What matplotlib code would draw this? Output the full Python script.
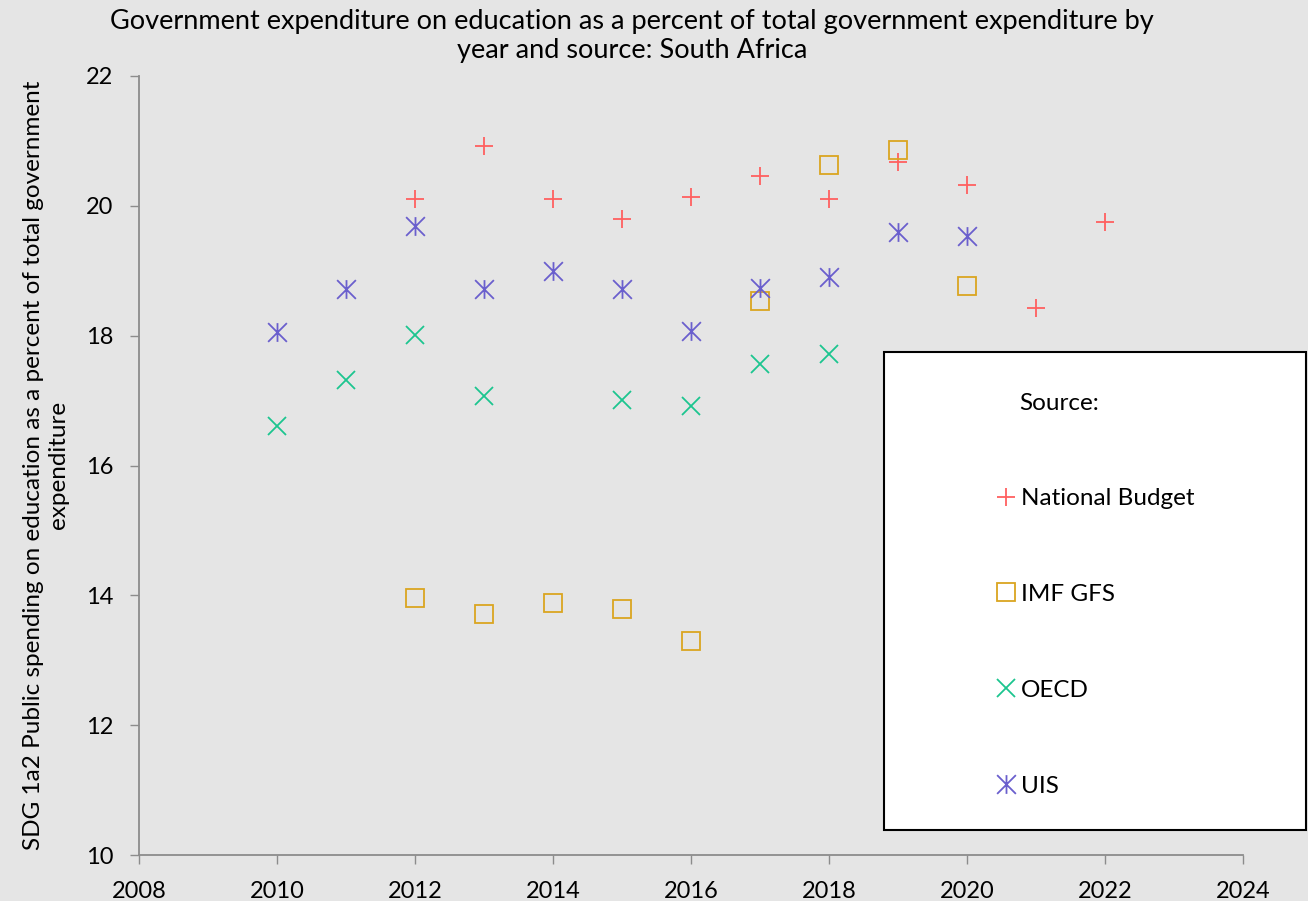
import matplotlib
matplotlib.use("Agg")
import matplotlib.pyplot as plt
from matplotlib.path import Path
from matplotlib.patches import Rectangle

# Government expenditure on education, % of total government expenditure
nb_years = [2012, 2013, 2014, 2015, 2016, 2017, 2018, 2019, 2020, 2021, 2022]
nb_values = [20.10, 20.92, 20.10, 19.80, 20.13, 20.46, 20.10, 20.67, 20.32, 18.42, 19.75]

imf_years = [2012, 2013, 2014, 2015, 2016, 2017, 2018, 2019, 2020]
imf_values = [13.96, 13.71, 13.88, 13.79, 13.29, 18.54, 20.63, 20.86, 18.77]

oecd_years = [2010, 2011, 2012, 2013, 2015, 2016, 2017, 2018]
oecd_values = [16.61, 17.32, 18.01, 17.07, 17.01, 16.92, 17.56, 17.72]

uis_years = [2010, 2011, 2012, 2013, 2014, 2015, 2016, 2017, 2018, 2019, 2020]
uis_values = [18.06, 18.72, 19.69, 18.72, 19.00, 18.72, 18.07, 18.73, 18.91, 19.60, 19.53]

x_ticks = [2008, 2010, 2012, 2014, 2016, 2018, 2020, 2022, 2024]
y_ticks = [10, 12, 14, 16, 18, 20, 22]

FONT = ["Lato", "DejaVu Sans"]
BG = "#E5E5E5"
AXIS_GRAY = "#8C8C8C"

# asterisk marker: vertical bar plus an X
asterisk = Path(
    [(0, -1), (0, 1), (-1, -1), (1, 1), (-1, 1), (1, -1)],
    [Path.MOVETO, Path.LINETO, Path.MOVETO, Path.LINETO, Path.MOVETO, Path.LINETO],
)

plt.rcParams["font.family"] = FONT

fig = plt.figure(figsize=(13.08, 9.01), dpi=100, facecolor=BG)
ax = fig.add_axes([0.1063, 0.051, 0.8440, 0.8647], facecolor=BG)

ms = 13.5
mew = 1.3
ax.plot(nb_years, nb_values, linestyle="none", marker="+", markersize=ms,
        markeredgewidth=mew, color="#FF6060", label="National Budget")
ax.plot(imf_years, imf_values, linestyle="none", marker="s", markersize=ms,
        markeredgewidth=mew, markerfacecolor="none", markeredgecolor="#DAA520",
        label="IMF GFS")
ax.plot(oecd_years, oecd_values, linestyle="none", marker="x", markersize=ms,
        markeredgewidth=mew, color="#1CC58F", label="OECD")
ax.plot(uis_years, uis_values, linestyle="none", marker=asterisk, markersize=ms,
        markeredgewidth=mew, color="#6A5FCD", label="UIS")

ax.set_xlim(2008, 2024)
ax.set_ylim(10, 22)
ax.set_xticks(x_ticks)
ax.set_yticks(y_ticks)

for side in ("top", "right"):
    ax.spines[side].set_visible(False)
for side in ("left", "bottom"):
    ax.spines[side].set_color(AXIS_GRAY)
    ax.spines[side].set_linewidth(1.3)

ax.tick_params(axis="both", direction="out", length=6.5, width=1.0,
               color=AXIS_GRAY, labelsize=17, labelcolor="black")
ax.tick_params(axis="x", pad=12)
ax.tick_params(axis="y", pad=12)

fig.text(0.483, 1 - 9 / 901,
         "Government expenditure on education as a percent of total government expenditure by\nyear and source: South Africa",
         ha="center", va="top", fontsize=19.5, linespacing=1.22)

fig.text(0.035, 0.484,
         "SDG 1a2 Public spending on education as a percent of total government\nexpenditure",
         ha="center", va="center", rotation=90, fontsize=17.5, linespacing=1.25)

# legend box
box = Rectangle((884 / 1308, 1 - 830 / 901), (1306 - 884) / 1308, (830 - 352) / 901,
                transform=fig.transFigure, facecolor="white", edgecolor="black",
                linewidth=1.5, zorder=5)
fig.patches.append(box)

fig.text(1019 / 1308, 1 - 403 / 901, "Source:", ha="left", va="center",
         fontsize=17.5, zorder=7)

leg = fig.legend(loc="upper left", bbox_to_anchor=(995 / 1308, 1 - 488 / 901),
                 frameon=False, fontsize=17.5,
                 labelspacing=3.08, handlelength=0.9, handletextpad=0.18,
                 borderpad=0, borderaxespad=0, markerscale=1.0)
leg.set_zorder(6)

fig.savefig("out.png", dpi=100, facecolor=BG)
